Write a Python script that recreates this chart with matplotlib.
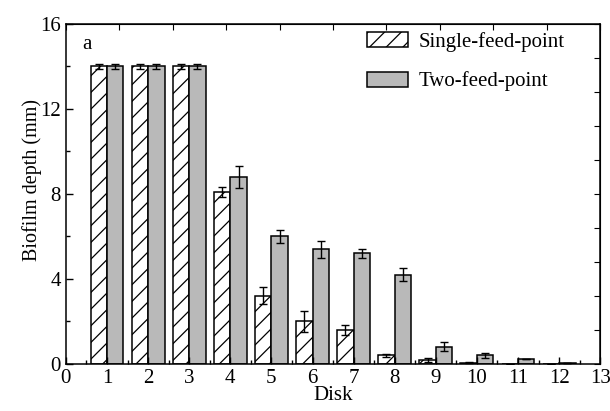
import matplotlib.pyplot as plt
import numpy as np

plt.rcParams['font.family'] = ['Liberation Serif', 'DejaVu Serif']
plt.rcParams['hatch.linewidth'] = 0.9

disks = np.arange(1, 13)
single = [14.0, 14.0, 14.0, 8.1, 3.2, 2.0, 1.6, 0.4, 0.2, 0.06, 0.02, 0.01]
single_err = [0.1, 0.1, 0.1, 0.25, 0.4, 0.5, 0.22, 0.08, 0.1, 0.02, 0.0, 0.0]
two = [14.0, 14.0, 14.0, 8.8, 6.0, 5.4, 5.2, 4.2, 0.82, 0.4, 0.22, 0.03]
two_err = [0.1, 0.1, 0.1, 0.5, 0.3, 0.4, 0.2, 0.3, 0.2, 0.1, 0.0, 0.0]

fig = plt.figure(figsize=(6.1, 4.11), dpi=100)
ax = fig.add_axes([0.108, 0.1144, 0.876, 0.8272])

w = 0.4
ekw = dict(ecolor='black', elinewidth=1.0, capsize=2.7, capthick=1.0)
ax.bar(disks - w/2, single, w, yerr=single_err, color='white', edgecolor='black',
       linewidth=1.1, hatch='//', label='Single-feed-point', error_kw=ekw)
ax.bar(disks + w/2, two, w, yerr=two_err, color='#b9b9b9', edgecolor='black',
       linewidth=1.1, label='Two-feed-point', error_kw=ekw)

ax.set_xlim(0, 13)
ax.set_ylim(0, 16)
ax.set_xticks(np.arange(0, 14))
ax.set_xticks(np.arange(0.5, 13, 1), minor=True)
ax.set_yticks([0, 4, 8, 12, 16])
ax.set_yticks([2, 6, 10, 14], minor=True)
ax.tick_params(axis='both', which='major', direction='in', length=5, width=1, labelsize=15)
ax.tick_params(axis='both', which='minor', direction='in', length=3, width=1)

# top and right axes ticks (own scales, like the original)
top = ax.secondary_xaxis('top')
top.set_xticks(np.arange(0, 13.01, 1.3))
top.tick_params(direction='in', length=4, labeltop=False)
right = ax.secondary_yaxis('right')
right.set_yticks(np.arange(0, 16.01, 1.6))
right.tick_params(direction='in', length=4, labelright=False)

for s in ax.spines.values():
    s.set_linewidth(1.1)

ax.set_xlabel('Disk', fontsize=15, labelpad=-1)
ax.set_ylabel('Biofilm depth (mm)', fontsize=14.5)
ax.yaxis.set_label_coords(-0.045, 0.54)
ax.text(0.03, 0.94, 'a', transform=ax.transAxes, fontsize=15, va='center')

ax.legend(loc='upper left', bbox_to_anchor=(0.563, 0.977), borderaxespad=0, borderpad=0,
          frameon=False, fontsize=15, handlelength=2.0, handleheight=0.75,
          handletextpad=0.5, labelspacing=0.95)

fig.savefig('out.png', dpi=100)
